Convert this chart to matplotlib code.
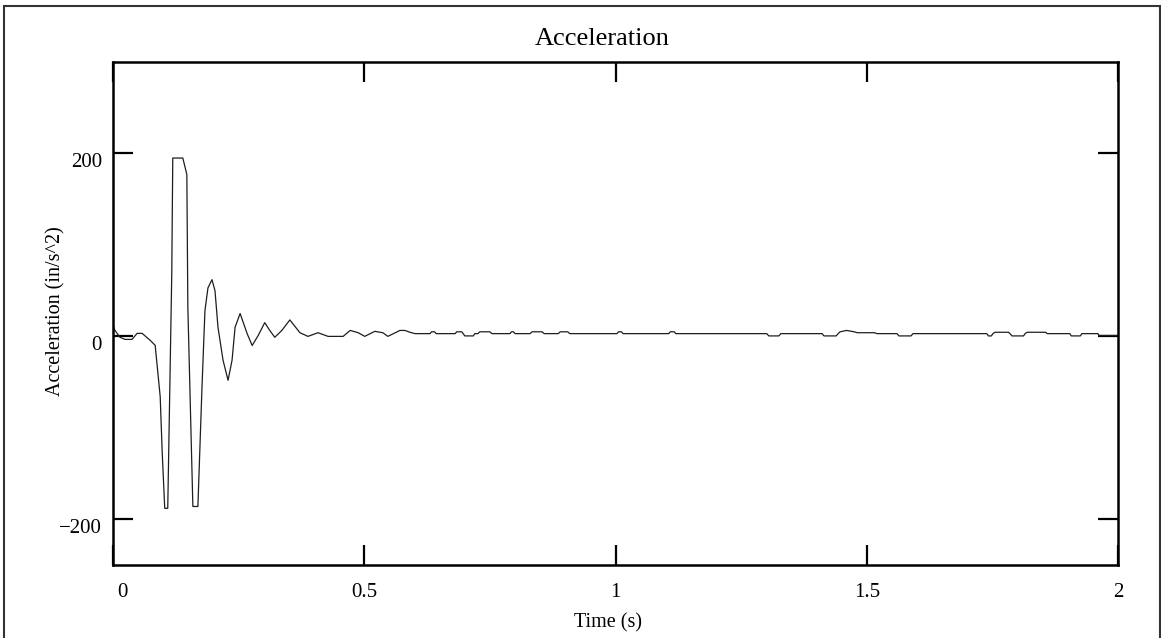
import matplotlib
matplotlib.use("Agg")
import matplotlib.pyplot as plt
from matplotlib.patches import Rectangle
from matplotlib.transforms import ScaledTranslation

plt.rcParams["font.family"] = ["Liberation Serif", "DejaVu Serif"]

# acceleration trace (time in s, accel in in/s^2)
time_s = [0.000, 0.004, 0.014, 0.024, 0.038, 0.048, 0.058, 0.074, 0.084, 0.094,
          0.098, 0.103, 0.109, 0.117, 0.119, 0.139, 0.147, 0.149, 0.153, 0.159,
          0.169, 0.177, 0.183, 0.189, 0.197, 0.203, 0.209, 0.219, 0.229, 0.237,
          0.243, 0.253, 0.267, 0.277, 0.289, 0.302, 0.312, 0.322, 0.336, 0.352,
          0.372, 0.388, 0.408, 0.428, 0.458, 0.472, 0.488, 0.501, 0.521, 0.537,
          0.547, 0.571, 0.581, 0.591, 0.601,
          0.631, 0.634, 0.640, 0.643, 0.681, 0.684, 0.694, 0.697, 0.700, 0.717,
          0.720, 0.726, 0.730, 0.750, 0.754, 0.790, 0.793, 0.797, 0.800, 0.830,
          0.834, 0.854, 0.858, 0.886, 0.890, 0.905, 0.909, 1.003, 1.006, 1.012,
          1.015, 1.106, 1.109, 1.117, 1.120, 1.301, 1.305, 1.325, 1.329, 1.411,
          1.415, 1.439, 1.443, 1.447, 1.460, 1.475, 1.481, 1.516, 1.520, 1.560,
          1.564, 1.588, 1.592, 1.739, 1.742, 1.748, 1.751, 1.755, 1.782, 1.785,
          1.789, 1.812, 1.815, 1.819, 1.856, 1.859, 1.904, 1.907, 1.925, 1.928,
          1.960, 1.962, 2.000]
accel = [12, 6.5, -1, -3.3, -3.3, 3.3, 3.3, -4.3, -9.8, -66,
         -127, -188, -188, 68, 195, 195, 177, 32, -55, -186,
         -186, -58, 28, 53, 62, 50, 10, -26, -48, -26,
         10, 25, 3, -10, 1, 15, 6.5, -1, 6.5, 18,
         4, 0, 4, 0, 0, 6.5, 4, 0, 5.5, 4,
         0, 6.5, 6.5, 4.5, 3,
         3, 5, 5, 3, 3, 5, 5, 3, 0.5, 0.5,
         3, 3, 5, 5, 3, 3, 5, 5, 3, 3,
         5, 5, 3, 3, 5, 5, 3, 3, 5, 5,
         3, 3, 5, 5, 3, 3, 0.5, 0.5, 3, 3,
         0.5, 0.5, 3, 5, 6.5, 5, 4, 4, 3, 3,
         0.5, 0.5, 3, 3, 0.5, 0.5, 3, 4.5, 4.5, 3,
         0.5, 0.5, 3, 4.5, 4.5, 3, 3, 0.5, 0.5, 3,
         3, 1, 1]

x_ticks = [0, 0.5, 1, 1.5, 2]
x_labels = ["0", "0.5", "1", "1.5", "2"]
y_ticks = [-200, 0, 200]
y_labels = ["\u2212200", "0", "200"]

fig = plt.figure(figsize=(11.61, 6.38), dpi=100)
ax = fig.add_axes([0.0973, 0.1144, 0.8657, 0.7884])
ax.plot(time_s, accel, color="#1e1e1e", lw=0.9)

ax.set_xlim(0, 2)
ax.set_ylim(-250, 300)
ax.set_xticks(x_ticks, x_labels)
ax.set_yticks(y_ticks, y_labels)
ax.tick_params(direction="in", length=14.5, width=1.6, top=True, right=True,
               labelsize=15, colors="black")
ax.tick_params(axis="x", pad=13)
ax.tick_params(axis="y", pad=8)
for s in ax.spines.values():
    s.set_linewidth(1.8)

# nudge tick labels the way the original lays them out
down = ScaledTranslation(0, -0.07, fig.dpi_scale_trans)
for lab in ax.get_yticklabels():
    lab.set_transform(lab.get_transform() + down)
xl = ax.get_xticklabels()
xl[0].set_transform(xl[0].get_transform() + ScaledTranslation(0.09, 0, fig.dpi_scale_trans))

ax.set_title("Acceleration", fontsize=19, pad=12, x=0.4866)
ax.set_xlabel("Time (s)", fontsize=14.5, labelpad=8)
ax.xaxis.label.set_x(0.4925)
ax.set_ylabel("Acceleration (in/s^2)", fontsize=14.5)
ax.yaxis.set_label_coords(-0.0468, 0.504)

fig.add_artist(Rectangle((0.0034, -0.02), 0.9957, 1.0106, transform=fig.transFigure,
                         fill=False, lw=1.5, ec="#333333"))

fig.savefig("out.png", dpi=100)
